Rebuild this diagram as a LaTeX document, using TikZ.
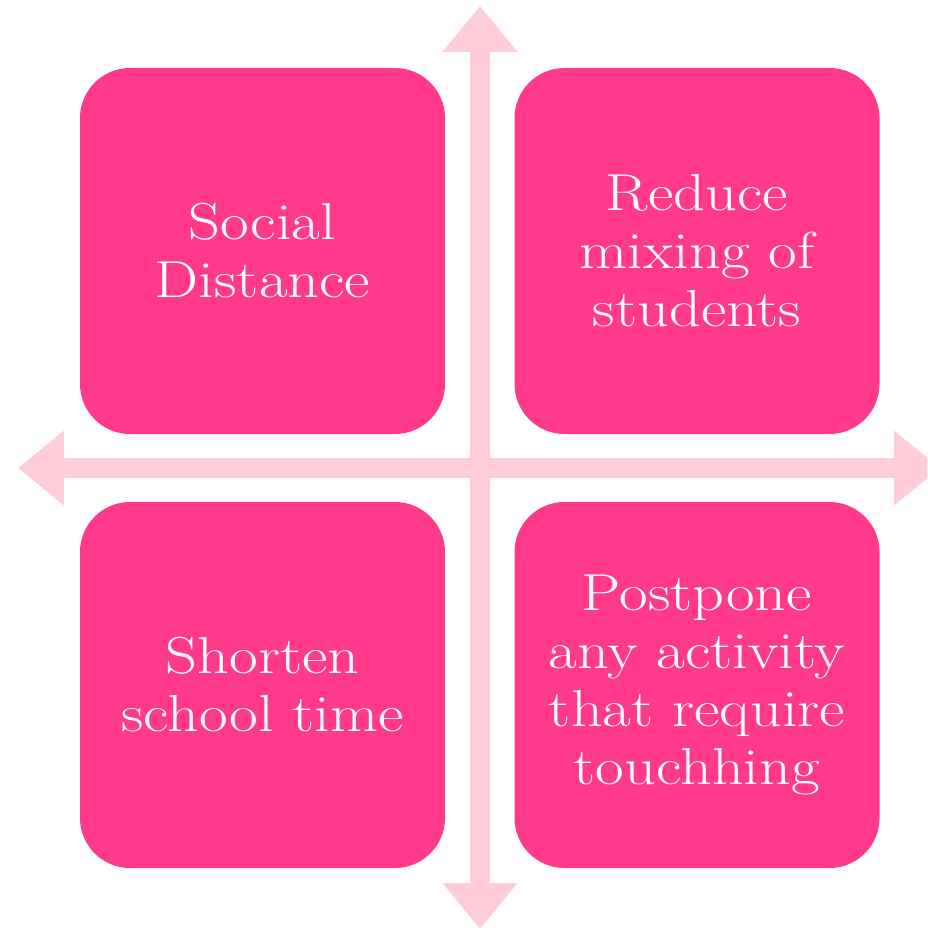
\documentclass[tikz,border=0pt]{standalone}
\usepackage{fontspec}
\usetikzlibrary{arrows.meta}

\newfontfamily\quadfont{Latin Modern Roman}[FakeStretch=1.2]

\definecolor{boxpink}{RGB}{255,58,139}
\definecolor{axispink}{RGB}{255,205,216}

\tikzset{
  quad/.style={fill=boxpink, draw=none, rounded corners=25pt,
    minimum width=182.5pt, minimum height=183pt, inner sep=0pt,
    text=white, align=center, font=\quadfont\fontsize{26}{29}\selectfont},
  axis/.style={draw=axispink, line width=10pt,
    {Triangle[width=36pt, length=23pt]}-{Triangle[width=36pt, length=23pt]}}
}

\begin{document}
\begin{tikzpicture}[x=0.5pt, y=-0.5pt]
    \useasboundingbox (0, 0) rectangle (927, 930);
    \clip (0, 0) rectangle (927, 930);

    % the cross
    \coordinate (top) at (480, 6);
    \coordinate (bottom) at (480, 929);
    \coordinate (left) at (18, 468);
    \coordinate (right) at (940, 468);
    \draw[axis] (bottom) -- (top);
    \draw[axis] (left) -- (right);

    % the four boxes
    \node[quad] (social) at (262.5, 251) {Social\\Distance};
    \node[quad] (mixing) at (697, 251) {Reduce\\mixing of\\students};
    \node[quad] (shorten) at (262.5, 685) {Shorten\\school time};
    \node[quad] (postpone) at (697, 685) {Postpone\\any activity\\that require\\touchhing};
\end{tikzpicture}
\end{document}
